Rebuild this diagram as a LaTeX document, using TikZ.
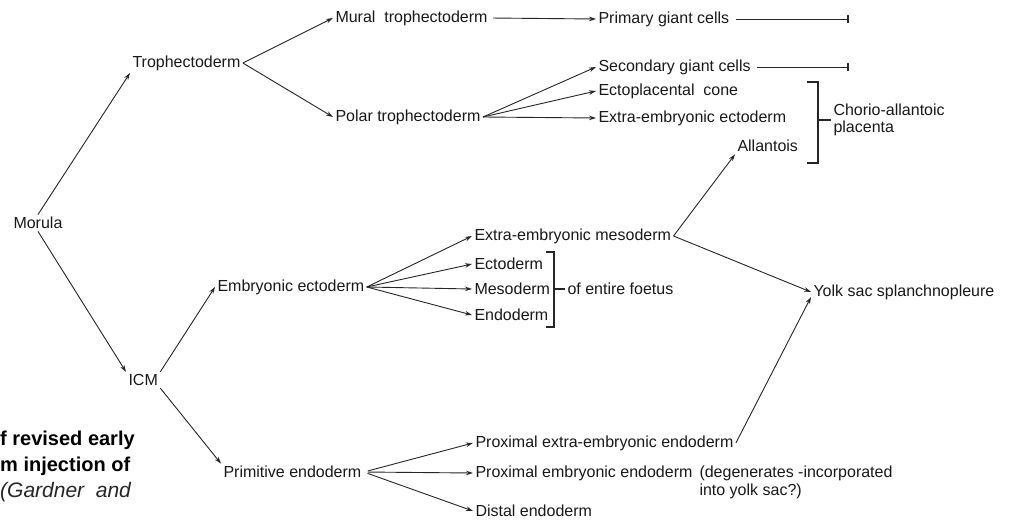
\documentclass[tikz,border=0pt]{standalone}
\usepackage{fontspec}
\setmainfont{Liberation Sans}
\usetikzlibrary{arrows.meta}
\begin{document}
\begin{tikzpicture}[x=1pt,y=-1pt,
  lbl/.style={anchor=west, inner sep=0pt, outer sep=2.5pt, font=\fontsize{16}{18}\selectfont, text=black!90},
  captxt/.style={anchor=west, inner sep=0pt, font=\fontsize{20}{24}\selectfont\bfseries, text=black},
  capit/.style={anchor=west, inner sep=0pt, font=\fontsize{21}{24}\selectfont\itshape, text=black!85},
  ln/.style={draw=black!85, line width=0.9pt},
  arr/.style={ln, -{Stealth[length=7pt,width=4.5pt]}},
  endbar/.style={ln, shorten <=4pt, -{Bar[width=8pt,line width=1.8pt]}},
  brk/.style={draw=black!85, line width=1.4pt}
]
\useasboundingbox[fill=white] (0,0) rectangle (1016,519);

% nodes
\node[lbl] (morula) at (11,223) {Morula};
\node[lbl] (troph) at (130,63) {Trophectoderm};
\node[lbl] (mural) at (333,18) {Mural\ \ trophectoderm};
\node[lbl] (polar) at (333,117) {Polar trophectoderm};
\node[lbl] (primary) at (596,19) {Primary giant cells};
\node[lbl] (second) at (596,67) {Secondary giant cells};
\node[lbl] (cone) at (596,91) {Ectoplacental\ \ cone};
\node[lbl] (exect) at (596,118) {Extra-embryonic ectoderm};
\node[lbl] (allan) at (735,146) {Allantois};
\node[lbl, align=left, font=\fontsize{16}{17.5}\selectfont] (chorio) at (831,120) {Chorio-allantoic\\placenta};
\node[lbl] (exmeso) at (472,236) {Extra-embryonic mesoderm};
\node[lbl] (ecto) at (472,264) {Ectoderm};
\node[lbl] (meso) at (472,289) {Mesoderm};
\node[lbl] (endo) at (472,315) {Endoderm};
\node[lbl] (foetus) at (565,289) {of entire foetus};
\node[lbl] (embecto) at (215,287) {Embryonic ectoderm};
\node[lbl] (yolk) at (811,292) {Yolk sac splanchnopleure};
\node[lbl] (icm) at (126,380) {ICM};
\node[lbl] (primend) at (221,472) {Primitive endoderm};
\node[lbl] (pxe) at (473,443) {Proximal extra-embryonic endoderm};
\node[lbl] (pemb) at (473,473) {Proximal embryonic endoderm};
\node[lbl] (note1) at (697,473) {(degenerates -incorporated};
\node[lbl] (note2) at (697,491) {into yolk sac?)};
\node[lbl] (distal) at (473,511) {Distal endoderm};

% caption fragments
\node[captxt] (c1) at (0,440) {f revised early};
\node[captxt] (c2) at (0,466) {m injection of};
\node[capit] (c3) at (0,492) {(Gardner\ \ and};

% end coordinates
\coordinate (pend) at (849,19);
\coordinate (send) at (849,67);

% connectors
\draw[arr] (morula.north) -- (troph.south west);
\draw[arr] (morula.south) -- (icm.north west);
\draw[arr] (troph.east) -- (mural.west);
\draw[arr] (troph.east) -- (polar.west);
\draw[arr, shorten <=3pt] (mural.east) -- (primary.west);
\draw[endbar] (primary.east) -- (pend);
\draw[endbar] (second.east) -- (send);
\draw[arr] (polar.east) -- (second.west);
\draw[arr] (polar.east) -- (cone.west);
\draw[arr] (polar.east) -- (exect.west);
\draw[arr] (exmeso.east) -- (allan.south west);
\draw[arr] (exmeso.east) -- (yolk.west);
\draw[arr] (pxe.east) -- ([yshift=-5pt]yolk.west);
\draw[arr] (icm.north east) -- (embecto.west);
\draw[arr] (icm.south east) -- (primend.north west);
\foreach \t in {exmeso,ecto,meso,endo}
  \draw[arr] (embecto.east) -- (\t.west);
\foreach \t in {pxe,pemb,distal}
  \draw[arr, shorten <=4pt] (primend.east) -- (\t.west);

% brackets
\coordinate (b1t) at (818,82);
\coordinate (b1b) at (818,163);
\coordinate (b1m) at (818,120);
\draw[brk] (807,82) -- (b1t) -- (b1b) -- (807,163);
\draw[brk] (b1m) -- (chorio.west);
\coordinate (b2t) at (554,252);
\coordinate (b2b) at (554,327);
\coordinate (b2m) at (554,289);
\draw[brk] (546,252) -- (b2t) -- (b2b) -- (546,327);
\draw[brk] (b2m) -- (foetus.west);
\end{tikzpicture}
\end{document}
